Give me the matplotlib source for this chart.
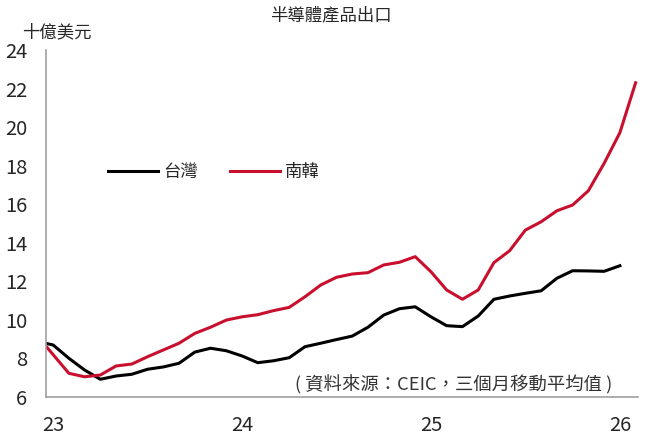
import matplotlib
matplotlib.use("Agg")
import matplotlib.pyplot as plt

plt.rcParams['font.family'] = ['Noto Sans CJK TC', 'DejaVu Sans']

# month index: 0 = Jan 2023 (first value is Dec 2022, clipped by the axis)
months = list(range(-1, 38))
taiwan = [8.88, 8.70, 8.01, 7.40, 6.92, 7.09, 7.18, 7.44, 7.56, 7.75,
          8.33, 8.53, 8.40, 8.13, 7.78, 7.88, 8.04, 8.61, 8.79, 8.98,
          9.16, 9.62, 10.25, 10.58, 10.68, 10.16, 9.70, 9.65, 10.20, 11.07,
          11.24, 11.38, 11.51, 12.16, 12.55, 12.54, 12.52, 12.81, None]
korea = [9.16, 8.20, 7.23, 7.05, 7.14, 7.61, 7.71, 8.09, 8.44, 8.79,
         9.30, 9.62, 9.99, 10.16, 10.27, 10.48, 10.65, 11.20, 11.81, 12.21,
         12.38, 12.45, 12.85, 12.99, 13.28, 12.50, 11.55, 11.07, 11.55, 12.97,
         13.59, 14.66, 15.09, 15.66, 15.96, 16.70, 18.12, 19.71, 22.30]
tick_pos = [0, 12, 24, 36]
tick_labels = ['23', '24', '25', '26']
yticks = [6, 8, 10, 12, 14, 16, 18, 20, 22, 24]

fig = plt.figure(figsize=(6.5, 4.37), dpi=100)
ax = fig.add_axes([0.0708, 0.0915, 0.9107, 0.7941])

tw_m = [m for m, v in zip(months, taiwan) if v is not None]
tw_v = [v for v in taiwan if v is not None]
ax.plot(tw_m, tw_v, color='black', lw=2.2, label='台灣')
ax.plot(months, korea, color='#C8102E', lw=2.2, label='南韓')

ax.set_xlim(-0.45, 37.15)
ax.set_ylim(6, 24)
ax.set_xticks(tick_pos)
ax.set_xticklabels(tick_labels)
ax.set_yticks(yticks)
ax.tick_params(length=0, labelsize=14.5, colors='#262626')
ax.tick_params(axis='y', pad=13.5)
ax.tick_params(axis='x', pad=13)
for s in ['top', 'right']:
    ax.spines[s].set_visible(False)
for s in ['left', 'bottom']:
    ax.spines[s].set_color('#a0a0a0')
    ax.spines[s].set_linewidth(1.2)

fig.text(331 / 650, 1 - 15 / 437, '半導體產品出口', ha='center', va='center',
         fontsize=12.5, color='#262626')
fig.text(57 / 650, 1 - 32 / 437, '十億美元', ha='center', va='center',
         fontsize=12.5, color='#262626')
fig.text(612 / 650, 1 - 385 / 437, '( 資料來源：CEIC，三個月移動平均值 )',
         ha='right', va='center', fontsize=13.2, style='italic', color='#333333')

fig.legend(loc='center left', bbox_to_anchor=(108 / 650, 1 - 172 / 437),
           ncol=2, frameon=False, fontsize=12.5, handlelength=2.9,
           handletextpad=0.3, columnspacing=1.8, borderpad=0,
           borderaxespad=0, labelcolor='#262626')

fig.savefig('out.png', dpi=100)
